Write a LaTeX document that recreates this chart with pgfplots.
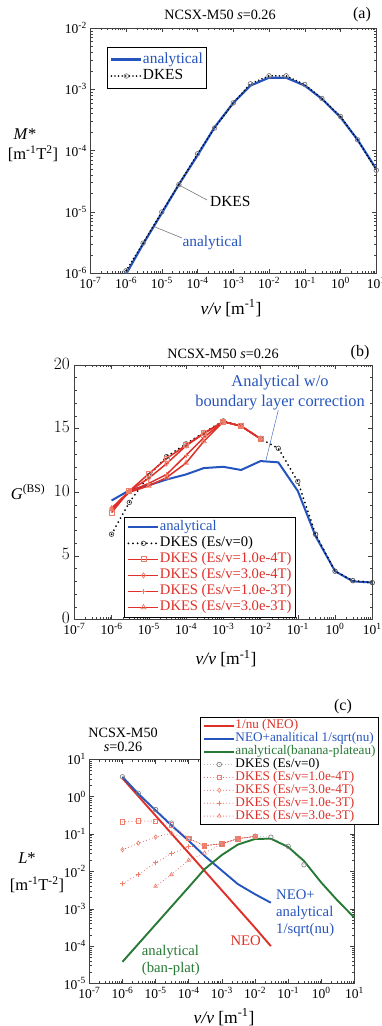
\documentclass[border=0pt]{standalone}
\usepackage{fontspec}
\setmainfont{Liberation Serif}
\usepackage{pgfplots}
\pgfplotsset{compat=1.18}

\definecolor{ablue}{RGB}{38,84,190}
\definecolor{ared}{RGB}{222,48,40}
\definecolor{lred}{RGB}{238,125,105}
\definecolor{agreen}{RGB}{38,122,52}
\definecolor{agray}{RGB}{120,120,120}

\newcommand\tsz{\fontsize{13.5}{15}\selectfont}
\newcommand\lsz{\fontsize{16.5}{18}\selectfont}
\newcommand\xlsz{\fontsize{17.5}{19}\selectfont}

\pgfplotsset{legend image code/.code={\draw[mark repeat=2,mark phase=2,#1] plot coordinates {(0pt,0pt) (15pt,0pt) (30pt,0pt)};}}
\tikzset{
  dkesdots/.style={black, line width=1.8pt, line cap=round, dash pattern=on 0pt off 3.6pt, mark=o, mark size=2.3pt, mark options={solid, draw=agray, line width=0.7pt, fill=none}},
  redline/.style={ared, line width=1.5pt, mark options={solid, draw=lred, line width=0.7pt, fill=none}, mark size=2.5pt},
  reddot/.style={ared, line width=0.9pt, line cap=round, dash pattern=on 0pt off 3.2pt, mark options={solid, draw=lred, line width=0.6pt, fill=none}, mark size=2.2pt},
}

\begin{document}
\begin{tikzpicture}
\useasboundingbox (0pt,0pt) rectangle (382pt,1026pt);

% ---------------- panel (a)
\begin{axis}[scale only axis, anchor=south west, at={(90.3pt,752.7pt)}, width=286pt, height=245.3pt,
  xmode=log, xmin=1e-7, xmax=10,
  xtick={1e-7,1e-6,1e-5,1e-4,1e-3,1e-2,1e-1,1,10},
  xticklabels={10\textsuperscript{-7},10\textsuperscript{-6},10\textsuperscript{-5},10\textsuperscript{-4},10\textsuperscript{-3},10\textsuperscript{-2},10\textsuperscript{-1},10\textsuperscript{0},10\textsuperscript{1}},
  minor xtick={2e-7,3e-7,4e-7,5e-7,6e-7,7e-7,8e-7,9e-7,2e-6,3e-6,4e-6,5e-6,6e-6,7e-6,8e-6,9e-6,2e-5,3e-5,4e-5,5e-5,6e-5,7e-5,8e-5,9e-5,2e-4,3e-4,4e-4,5e-4,6e-4,7e-4,8e-4,9e-4,2e-3,3e-3,4e-3,5e-3,6e-3,7e-3,8e-3,9e-3,0.02,0.03,0.04,0.05,0.06,0.07,0.08,0.09,0.2,0.3,0.4,0.5,0.6,0.7,0.8,0.9,2,3,4,5,6,7,8,9},
  tick label style={font=\tsz},
  axis line style={line width=0.7pt, black!75},
  major tick length=4.5pt, minor tick length=2.5pt,
  every tick/.style={black!75, line width=0.5pt},
  tick align=inside, legend cell align=left,
  ymode=log, ymin=1e-6, ymax=1e-2,
  ytick={1e-6,1e-5,1e-4,1e-3,1e-2},
  yticklabels={10\textsuperscript{-6},10\textsuperscript{-5},10\textsuperscript{-4},10\textsuperscript{-3},10\textsuperscript{-2}},
  minor ytick={2e-6,3e-6,4e-6,5e-6,6e-6,7e-6,8e-6,9e-6,2e-5,3e-5,4e-5,5e-5,6e-5,7e-5,8e-5,9e-5,2e-4,3e-4,4e-4,5e-4,6e-4,7e-4,8e-4,9e-4,2e-3,3e-3,4e-3,5e-3,6e-3,7e-3,8e-3,9e-3},
  legend style={at={(0.058,0.923)}, anchor=north west, draw=black, line width=0.8pt, fill=white,
    font=\fontsize{15.4}{15}\selectfont, inner xsep=3pt, inner ysep=4pt, row sep=0pt,
    nodes={inner sep=0.5pt, text height=11.5pt, text depth=4pt}},
]
\addplot[ablue, line width=2.2pt] coordinates {(1e-6,0.97e-6) (3e-6,3.0e-6) (1e-5,9.6e-6) (3e-5,2.8e-5) (1e-4,8.4e-5) (3e-4,2.4e-4) (1e-3,6.0e-4) (3e-3,1.15e-3) (1e-2,1.55e-3) (3e-2,1.55e-3) (1e-1,1.15e-3) (3e-1,7.0e-4) (1,3.5e-4) (3,1.5e-4) (10,5.0e-5)};
\addlegendentry{\textcolor{ablue}{analytical}}
\addplot[dkesdots] coordinates {(1e-6,1.1e-6) (3e-6,3.1e-6) (1e-5,1.0e-5) (3e-5,2.8e-5) (1e-4,8.9e-5) (3e-4,2.35e-4) (1e-3,6.0e-4) (3e-3,1.23e-3) (1e-2,1.66e-3) (3e-2,1.66e-3) (1e-1,1.2e-3) (3e-1,7.1e-4) (1,3.6e-4) (3,1.5e-4) (10,4.8e-5)};
\addlegendentry{DKES}
\end{axis}
\node[font=\fontsize{14.2}{16}\selectfont] at (220pt,1011pt) {NCSX-M50 \textit{s}=0.26};
\node[font=\fontsize{16}{18}\selectfont] at (362pt,1011pt) {(a)};
\node[font=\lsz] at (25pt,892pt) {\textit{M}*};
\node[font=\lsz] at (33pt,872pt) {[m\textsuperscript{-1}T\textsuperscript{2}]};
\node[font=\xlsz] at (231pt,718pt) {\textit{ν/v} [m\textsuperscript{-1}]};
\draw[agray, line width=0.6pt] (179pt,841pt) -- (207pt,826pt);
\node[anchor=west, font=\fontsize{15.4}{17}\selectfont, inner sep=0pt] at (210pt,824.3pt) {DKES};
\draw[agray, line width=0.6pt] (155pt,799pt) -- (182pt,788pt);
\node[anchor=west, font=\fontsize{15.4}{17}\selectfont, inner sep=0pt, text=ablue] at (182.3pt,783.3pt) {analytical};

% ---------------- panel (b)
\begin{axis}[scale only axis, anchor=south west, at={(74.3pt,406.5pt)}, width=298pt, height=254.5pt,
  xmode=log, xmin=1e-7, xmax=10,
  xtick={1e-7,1e-6,1e-5,1e-4,1e-3,1e-2,1e-1,1,10},
  xticklabels={10\textsuperscript{-7},10\textsuperscript{-6},10\textsuperscript{-5},10\textsuperscript{-4},10\textsuperscript{-3},10\textsuperscript{-2},10\textsuperscript{-1},10\textsuperscript{0},10\textsuperscript{1}},
  minor xtick={2e-7,3e-7,4e-7,5e-7,6e-7,7e-7,8e-7,9e-7,2e-6,3e-6,4e-6,5e-6,6e-6,7e-6,8e-6,9e-6,2e-5,3e-5,4e-5,5e-5,6e-5,7e-5,8e-5,9e-5,2e-4,3e-4,4e-4,5e-4,6e-4,7e-4,8e-4,9e-4,2e-3,3e-3,4e-3,5e-3,6e-3,7e-3,8e-3,9e-3,0.02,0.03,0.04,0.05,0.06,0.07,0.08,0.09,0.2,0.3,0.4,0.5,0.6,0.7,0.8,0.9,2,3,4,5,6,7,8,9},
  tick label style={font=\tsz},
  axis line style={line width=0.7pt, black!75},
  major tick length=4.5pt, minor tick length=2.5pt,
  every tick/.style={black!75, line width=0.5pt},
  tick align=inside, legend cell align=left,
  ymin=0, ymax=20, ytick={0,5,10,15,20}, minor y tick num=4,
  yticklabel style={font=\fontsize{16.5}{18}\selectfont, yshift=1.5pt, xshift=-1pt},
  legend style={at={(0.167,0.403)}, anchor=north west, draw=black, line width=0.8pt, fill=white,
    font=\fontsize{14.6}{15}\selectfont, inner xsep=3pt, inner ysep=2pt, row sep=0pt,
    nodes={inner sep=0.5pt, text height=10.5pt, text depth=4.5pt}},
]
\addplot[ablue, line width=2pt] coordinates {(1e-6,9.35) (3e-6,10.15) (1e-5,10.55) (3e-5,11.0) (1e-4,11.4) (3e-4,11.9) (1e-3,12.0) (3e-3,11.75) (1e-2,12.45) (3e-2,12.35) (1e-1,10.1) (3e-1,6.55) (1,3.8) (3,3.0) (10,2.9)};
\addlegendentry{\textcolor{ablue}{analytical}}
\addplot[dkesdots, dash pattern=on 0pt off 4.6pt, line width=2pt, mark options={solid, draw=black!70, line width=0.7pt, fill=none}] coordinates {(1e-6,6.7) (3e-6,9.2) (1e-5,11.3) (3e-5,12.8) (1e-4,13.8) (3e-4,14.7) (1e-3,15.6) (3e-3,15.2) (1e-2,14.2) (3e-2,13.45) (1e-1,10.85) (3e-1,6.7) (1,3.8) (3,3.05) (10,2.9)};
\addlegendentry{DKES (Es/v=0)}
\addplot[redline, mark=square] coordinates {(1e-6,8.4) (3e-6,10.1) (1e-5,11.45) (3e-5,12.65) (1e-4,13.7) (3e-4,14.65) (1e-3,15.55) (3e-3,15.2) (1e-2,14.2)};
\addlegendentry{\textcolor{ared}{DKES (Es/v=1.0e-4T)}}
\addplot[redline, mark=diamond] coordinates {(1e-6,8.75) (3e-6,10.1) (1e-5,11.1) (3e-5,12.25) (1e-4,13.65) (3e-4,14.6) (1e-3,15.55) (3e-3,15.2) (1e-2,14.2)};
\addlegendentry{\textcolor{ared}{DKES (Es/v=3.0e-4T)}}
\addplot[redline, mark=+] coordinates {(1e-6,8.6) (3e-6,10.05) (1e-5,10.7) (3e-5,11.4) (1e-4,12.9) (3e-4,14.3) (1e-3,15.55) (3e-3,15.2) (1e-2,14.2)};
\addlegendentry{\textcolor{ared}{DKES (Es/v=1.0e-3T)}}
\addplot[redline, mark=triangle, mark size=2.8pt] coordinates {(1e-6,8.65) (3e-6,10.0) (1e-5,10.5) (3e-5,11.15) (1e-4,12.3) (3e-4,14.0) (1e-3,15.55) (3e-3,15.2) (1e-2,14.2)};
\addlegendentry{\textcolor{ared}{DKES (Es/v=3.0e-3T)}}
\end{axis}
\node[font=\fontsize{14.2}{16}\selectfont] at (223pt,672pt) {NCSX-M50 \textit{s}=0.26};
\node[font=\fontsize{16}{18}\selectfont] at (360pt,673pt) {(b)};
\node[font=\lsz] at (28pt,534pt) {\textit{G}\textsuperscript{(BS)}};
\node[font=\xlsz] at (226pt,367.7pt) {\textit{ν/v} [m\textsuperscript{-1}]};
\node[font=\fontsize{16.4}{20}\selectfont, text=ablue, align=center] at (280pt,633pt) {Analytical w/o\\boundary layer correction};
\draw[ablue, line width=0.4pt] (278.3pt,616pt) -- (266pt,566pt);

% ---------------- panel (c)
\begin{axis}[scale only axis, anchor=south west, at={(89.3pt,42.5pt)}, width=265.2pt, height=224.2pt,
  xmode=log, xmin=1e-7, xmax=10,
  xtick={1e-7,1e-6,1e-5,1e-4,1e-3,1e-2,1e-1,1,10},
  xticklabels={10\textsuperscript{-7},10\textsuperscript{-6},10\textsuperscript{-5},10\textsuperscript{-4},10\textsuperscript{-3},10\textsuperscript{-2},10\textsuperscript{-1},10\textsuperscript{0},10\textsuperscript{1}},
  minor xtick={2e-7,3e-7,4e-7,5e-7,6e-7,7e-7,8e-7,9e-7,2e-6,3e-6,4e-6,5e-6,6e-6,7e-6,8e-6,9e-6,2e-5,3e-5,4e-5,5e-5,6e-5,7e-5,8e-5,9e-5,2e-4,3e-4,4e-4,5e-4,6e-4,7e-4,8e-4,9e-4,2e-3,3e-3,4e-3,5e-3,6e-3,7e-3,8e-3,9e-3,0.02,0.03,0.04,0.05,0.06,0.07,0.08,0.09,0.2,0.3,0.4,0.5,0.6,0.7,0.8,0.9,2,3,4,5,6,7,8,9},
  tick label style={font=\tsz},
  axis line style={line width=0.7pt, black!75},
  major tick length=4.5pt, minor tick length=2.5pt,
  every tick/.style={black!75, line width=0.5pt},
  tick align=inside, legend cell align=left,
  ymode=log, ymin=1e-5, ymax=10,
  ytick={1e-5,1e-4,1e-3,1e-2,1e-1,1,10},
  yticklabels={10\textsuperscript{-5},10\textsuperscript{-4},10\textsuperscript{-3},10\textsuperscript{-2},10\textsuperscript{-1},10\textsuperscript{0},10\textsuperscript{1}},
  minor ytick={2e-5,3e-5,4e-5,5e-5,6e-5,7e-5,8e-5,9e-5,2e-4,3e-4,4e-4,5e-4,6e-4,7e-4,8e-4,9e-4,2e-3,3e-3,4e-3,5e-3,6e-3,7e-3,8e-3,9e-3,0.02,0.03,0.04,0.05,0.06,0.07,0.08,0.09,0.2,0.3,0.4,0.5,0.6,0.7,0.8,0.9,2,3,4,5,6,7,8,9},
  legend style={at={(0.417,1.189)}, anchor=north west, draw=black, line width=0.8pt, fill=white,
    font=\fontsize{13.2}{13}\selectfont, inner xsep=3pt, inner ysep=2pt, row sep=0pt,
    nodes={inner sep=0.3pt, text height=9.3pt, text depth=3pt}},
]
\addplot[ared, line width=1.9pt] coordinates {(1e-6,3.1) (1e-5,0.31) (1e-4,0.031) (1e-3,3.1e-3) (1e-2,3.1e-4) (3e-2,1.0e-4)};
\addlegendentry{\textcolor{ared}{1/nu (NEO)}}
\addplot[ablue, line width=1.9pt] coordinates {(1e-6,3.4) (3e-6,1.2) (1e-5,0.43) (3e-5,0.17) (1e-4,0.066) (3e-4,0.026) (1e-3,0.0105) (3e-3,4.6e-3) (1e-2,2.45e-3) (3e-2,1.45e-3)};
\addlegendentry{\textcolor{ablue}{NEO+analitical 1/sqrt(nu)}}
\addplot[agreen, line width=1.9pt] coordinates {(1e-6,3.8e-5) (1e-5,3.8e-4) (1e-4,3.8e-3) (3e-4,1.15e-2) (1e-3,2.75e-2) (3e-3,5.2e-2) (1e-2,7.4e-2) (3e-2,7.5e-2) (1e-1,4.5e-2) (3e-1,1.9e-2) (1,5.0e-3) (3,1.7e-3) (10,5.75e-4)};
\addlegendentry{\textcolor{agreen}{analytical(banana-plateau)}}
\addplot[agray, line width=0.7pt, line cap=round, dash pattern=on 0pt off 3pt, mark=o, mark size=2.3pt, mark options={solid, draw=agray, line width=0.6pt, fill=none}] coordinates {(1e-6,3.4) (3e-6,1.24) (1e-5,0.45) (3e-5,0.196) (1e-4,0.076) (3e-4,0.049) (1e-3,0.055) (3e-3,0.075) (1e-2,0.087) (3e-2,0.082) (1e-1,0.047) (3e-1,0.015)};
\addlegendentry{DKES (Es/v=0)}
\addplot[reddot, mark=square] coordinates {(1e-6,0.21) (3e-6,0.225) (1e-5,0.22) (3e-5,0.175) (1e-4,0.076) (3e-4,0.049) (1e-3,0.055) (3e-3,0.075) (1e-2,0.087)};
\addlegendentry{\textcolor{ared}{DKES (Es/v=1.0e-4T)}}
\addplot[reddot, mark=diamond] coordinates {(1e-6,0.038) (3e-6,0.057) (1e-5,0.083) (3e-5,0.105) (1e-4,0.074) (3e-4,0.049) (1e-3,0.055) (3e-3,0.075) (1e-2,0.087)};
\addlegendentry{\textcolor{ared}{DKES (Es/v=3.0e-4T)}}
\addplot[reddot, mark=+] coordinates {(1e-6,4.7e-3) (3e-6,8.3e-3) (1e-5,0.017) (3e-5,0.030) (1e-4,0.046) (3e-4,0.049) (1e-3,0.055) (3e-3,0.075) (1e-2,0.087)};
\addlegendentry{\textcolor{ared}{DKES (Es/v=1.0e-3T)}}
\addplot[reddot, mark=triangle] coordinates {(1e-5,4.0e-3) (3e-5,8.2e-3) (1e-4,0.020) (3e-4,0.031) (1e-3,0.055) (3e-3,0.075) (1e-2,0.087)};
\addlegendentry{\textcolor{ared}{DKES (Es/v=3.0e-3T)}}
\end{axis}
\node[font=\fontsize{14.2}{14}\selectfont, align=center] at (123pt,286pt) {NCSX-M50\\\textit{s}=0.26};
\node[font=\fontsize{16}{18}\selectfont] at (343pt,319pt) {(c)};
\node[font=\lsz] at (27pt,168pt) {\textit{L}*};
\node[font=\lsz] at (37pt,141pt) {[m\textsuperscript{-1}T\textsuperscript{-2}]};
\node[font=\xlsz] at (224pt,9pt) {\textit{ν/v} [m\textsuperscript{-1}]};
\node[anchor=west, align=left, font=\fontsize{14.7}{17}\selectfont, text=ablue, inner sep=0pt] at (276pt,113pt) {NEO+\\analytical\\1/sqrt(nu)};
\node[font=\fontsize{14.7}{17}\selectfont, text=ared] at (245.7pt,85.3pt) {NEO};
\node[anchor=west, align=left, font=\fontsize{14.7}{17}\selectfont, text=agreen, inner sep=0pt] at (141.7pt,66pt) {analytical\\(ban-plat)};
\end{tikzpicture}
\end{document}
